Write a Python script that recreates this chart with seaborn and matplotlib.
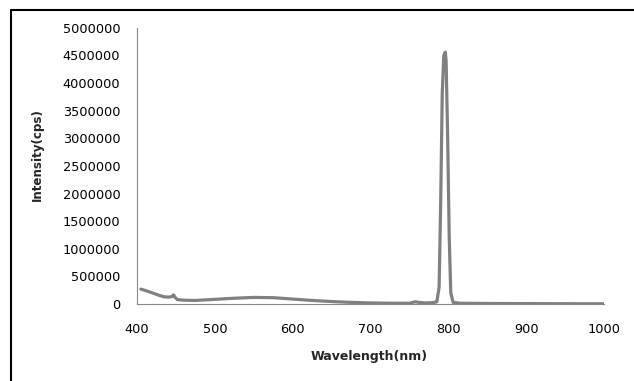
import pandas as pd
import seaborn as sns
import matplotlib.pyplot as plt
from matplotlib.lines import Line2D

wavelength = [405, 412, 420, 428, 435, 441, 445, 447, 449, 452, 460, 475, 500, 525,
              550, 575, 600, 625, 650, 675, 700, 725, 750, 757, 762, 770, 780, 785,
              788, 790, 792, 794, 796, 797, 799, 801, 803, 806, 815, 850, 900, 950, 1000]
intensity = [270000, 240000, 200000, 160000, 130000, 125000, 135000, 165000, 120000, 80000,
             70000, 65000, 85000, 105000, 120000, 115000, 90000, 65000, 45000, 30000,
             20000, 15000, 15000, 40000, 30000, 20000, 25000, 40000,
             300000, 1800000, 3800000, 4500000, 4560000, 4400000, 3000000, 1200000, 200000, 30000,
             15000, 10000, 8000, 6000, 5000]

df = pd.DataFrame({"wavelength": wavelength, "intensity": intensity})

sns.set_style("white")
plt.rcParams["font.family"] = ["DejaVu Sans"]

fig = plt.figure(figsize=(6.34, 3.81), dpi=100)
ax = fig.add_axes([0.216, 0.202, 0.737, 0.725])

sns.lineplot(data=df, x="wavelength", y="intensity", color="#808080", linewidth=2.3, ax=ax)

ax.set_xlim(400, 1000)
ax.set_ylim(0, 5000000)
ax.set_xticks(range(400, 1001, 100))
ax.set_yticks(range(0, 5000001, 500000))
ax.set_yticklabels([str(v) for v in range(0, 5000001, 500000)])
ax.tick_params(axis="both", labelsize=9.3, length=0, colors="black")
ax.tick_params(axis="y", pad=12)
ax.tick_params(axis="x", pad=14)
ax.set_xlabel("Wavelength(nm)", fontsize=9, fontweight="bold")
ax.set_ylabel("Intensity(cps)", fontsize=8.6, fontweight="bold")
ax.xaxis.set_label_coords(0.497, -0.165)
ax.yaxis.set_label_coords(-0.199, 0.54)

for s in ["top", "right"]:
    ax.spines[s].set_visible(False)
for s in ["left", "bottom"]:
    ax.spines[s].set_color("#888888")
    ax.spines[s].set_linewidth(0.8)

# outer frame (top and left edges visible)
fig.add_artist(Line2D([11 / 634, 1], [1 - 10 / 381, 1 - 10 / 381], color="black", linewidth=1.5))
fig.add_artist(Line2D([11 / 634, 11 / 634], [0, 1 - 10 / 381], color="black", linewidth=1.5))

fig.savefig("out.png", dpi=100)
